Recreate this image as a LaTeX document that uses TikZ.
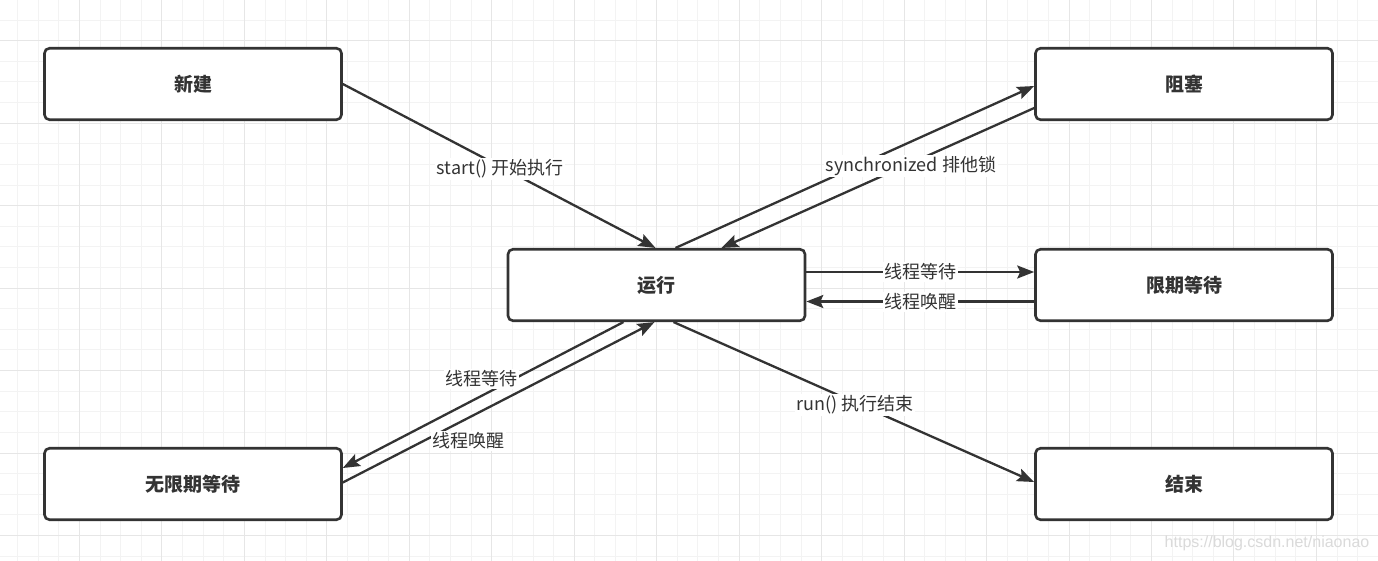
\documentclass[tikz,border=0pt]{standalone}
\usepackage{fontspec}
\setmainfont{Noto Sans CJK SC}
\newfontfamily\wmfont{Liberation Sans}
\usetikzlibrary{arrows.meta}
\definecolor{ink}{HTML}{333333}
\definecolor{gridminor}{HTML}{F3F3F3}
\definecolor{gridmajor}{HTML}{E6E6E6}
\definecolor{wmgray}{HTML}{DADADA}
\begin{document}
\begin{tikzpicture}[x=1pt,y=-1pt,
  state/.style={draw=ink, line width=2.6pt, fill=white, rounded corners=5pt,
    minimum width=297pt, minimum height=71.5pt, inner sep=0pt,
    font=\bfseries\fontsize{19}{22}\selectfont, text=ink},
  conn/.style={draw=ink, line width=2.3pt, -{Stealth[length=17pt,width=13pt,inset=3pt]}},
  lbl/.style={fill=white, inner sep=1.5pt, text=ink, font=\fontsize{18}{20}\selectfont}]
\useasboundingbox (0,0) rectangle (1378,561);
\fill[white] (0,0) rectangle (1378,561);
% grid
\foreach \i in {-4,...,63} \draw[gridminor, line width=1pt] ({79.5+\i*20.615},0) -- ++(0,561);
\foreach \j in {-2,...,26} \draw[gridminor, line width=1pt] (0,{40.7+\j*20.615}) -- ++(1378,0);
\foreach \i in {-1,...,15} \draw[gridmajor, line width=1pt] ({79.5+\i*82.46},0) -- ++(0,561);
\foreach \j in {0,...,6} \draw[gridmajor, line width=1pt] (0,{40.7+\j*82.46}) -- ++(1378,0);
% states
\node[state] (xj) at (193,84) {新建};
\node[state] (zs) at (1184,84) {阻塞};
\node[state] (run) at (656.5,285) {运行};
\node[state] (xq) at (1184,285) {限期等待};
\node[state] (wx) at (193,484) {无限期等待};
\node[state] (js) at (1184,484) {结束};
% connectors
\draw[conn] (xj.east) -- ([xshift=-1pt]run.north);
\draw[conn] ([xshift=19pt]run.north) -- ([yshift=-2pt]zs.west);
\draw[conn] ([yshift=-24pt]zs.west) -- ([xshift=65pt]run.north);
\draw[conn] ([yshift=13pt]run.east) -- ([yshift=13pt]xq.west);
\draw[conn] ([yshift=-16.5pt]xq.west) -- ([yshift=-16.5pt]run.east);
\draw[conn] ([xshift=-33pt]run.south) -- ([yshift=16pt]wx.east);
\draw[conn] ([yshift=1.5pt]wx.east) -- ([xshift=-2pt]run.south);
\draw[conn] ([xshift=17pt]run.south) -- ([yshift=2pt]js.west);
% labels
\node[lbl] (l1) at (500,169) {start() 开始执行};
\node[lbl] (l2) at (911,166) {synchronized 排他锁};
\node[lbl] (l3) at (920.5,272) {线程等待};
\node[lbl] (l4) at (920,302) {线程唤醒};
\node[lbl] (l5) at (481.5,379) {线程等待};
\node[lbl] (l6) at (468.5,441) {线程唤醒};
\node[lbl] (l7) at (855,405) {run() 执行结束};
% watermark
\node[text=wmgray, inner sep=0pt, font=\wmfont\fontsize{16}{18}\selectfont] (wm) at (1267,543) {https://blog.csdn.net/niaonao};
\end{tikzpicture}
\end{document}
